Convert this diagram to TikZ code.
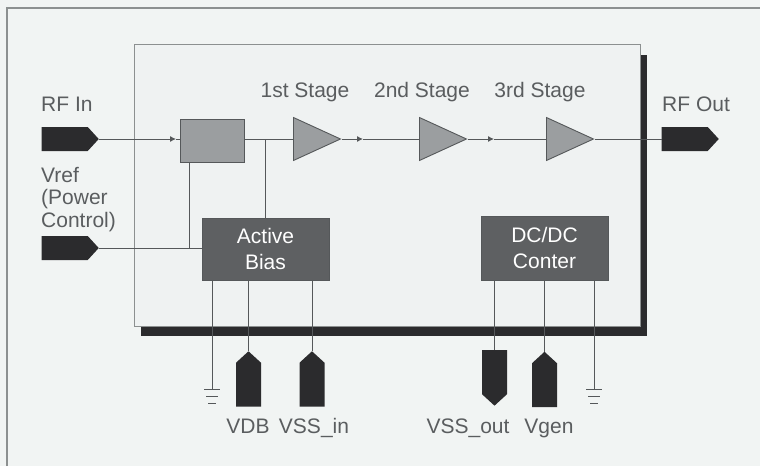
\documentclass[tikz,border=0pt]{standalone}
\usepackage{fontspec}
\setmainfont{Liberation Sans}
\usetikzlibrary{arrows.meta,shapes.geometric,shapes.symbols}
\definecolor{mmicPaper}{HTML}{F1F4F3}
\definecolor{mmicPanel}{HTML}{EFF2F2}
\definecolor{mmicEdge}{HTML}{8C9090}
\definecolor{mmicInk}{HTML}{2B2B2D}
\definecolor{mmicWire}{HTML}{55585A}
\definecolor{mmicText}{HTML}{5A5D5F}
\definecolor{mmicGray}{HTML}{9B9EA0}
\definecolor{mmicDark}{HTML}{5E6062}
\tikzset{
  mmic wire/.style={draw=mmicWire, line width=0.9pt},
  mmic feed/.style={mmic wire, -{Latex[length=6pt,width=6pt]}},
  mmic label/.style={font=\fontsize{21}{22.5}\selectfont, text=mmicText, inner sep=0pt, anchor=base},
  mmic port/.style={signal, fill=mmicInk, draw=none, inner sep=0pt, signal from=nowhere, signal pointer angle=95},
  mmic hport/.style={mmic port, signal to=east, minimum width=57, minimum height=24, anchor=east},
  mmic vport/.style={mmic port, minimum width=25, minimum height=44, anchor=north},
  mmic amp/.style={isosceles triangle, isosceles triangle stretches, draw=mmicWire, fill=mmicGray, line width=0.9pt,
    inner sep=0pt, minimum width=43, minimum height=47, anchor=lower side},
  mmic block/.style={rectangle, draw=mmicWire, fill=mmicDark, line width=0.9pt, inner sep=0pt, minimum width=127,
    font=\fontsize{21}{25.5}\selectfont, text=white, align=center},
  mmic ground/.pic={
    \draw[mmic wire] (-8,0) -- (8,0);
    \draw[mmic wire] (-6,7) -- (6,7);
    \draw[mmic wire] (-4,14) -- (4,14);
  },
}

\begin{document}
\begin{tikzpicture}[x=1pt,y=-1pt]
  \useasboundingbox[fill=mmicPaper] (0,0) rectangle (760,466);
  % Frame, top and left only
  \draw[draw=mmicEdge, line width=1.5pt] (7,466) -- (7,8) -- (760,8);

  % Chip with its shadow
  \fill[mmicInk] (141,55) rectangle (647,336);
  \draw[draw=mmicEdge, fill=mmicPanel, line width=1pt] (134,44.5) rectangle (640,326);

  % Ports
  \node[mmic hport] (rfin) at (99,139) {};
  \node[mmic hport] (vref) at (99,248) {};
  \node[mmic hport] (rfout) at (719,139) {};
  \node[mmic vport, signal to=north] (vdb) at (248.5,351) {};
  \node[mmic vport, signal to=north] (vssin) at (312,351) {};
  \node[mmic vport, signal to=south] (vssout) at (494.5,350) {};
  \node[mmic vport, signal to=north] (vgen) at (544.5,351.5) {};

  % Blocks and stages
  \node[rectangle, draw=mmicWire, fill=mmicGray, line width=0.9pt, minimum width=64, minimum height=43, inner sep=0pt] (split) at (212,140.5) {};
  \node[mmic amp] (stagea) at (293,139) {};
  \node[mmic amp] (stageb) at (419,139) {};
  \node[mmic amp] (stagec) at (546,139) {};
  \node[mmic block, minimum height=62] (bias) at (265.5,249) {Active\\Bias};
  \node[mmic block, minimum height=64] (dcdc) at (544.5,248) {DC/DC\\Conter};

  % Labels
  \node[mmic label, anchor=base west] (rfinlabel) at (41,111) {RF In};
  \node[mmic label, anchor=north west, align=left] (vreflabel) at (41,167) {Vref\\(Power\\Control)};
  \node[mmic label, anchor=base west] (rfoutlabel) at (662,111) {RF Out};
  \node[mmic label] (stagealabel) at (305,97) {1st Stage};
  \node[mmic label] (stageblabel) at (422,97) {2nd Stage};
  \node[mmic label] (stageclabel) at (540,97) {3rd Stage};
  \node[mmic label] (vdblabel) at (248,433) {VDB};
  \node[mmic label] (vssinlabel) at (314,433) {VSS\_in};
  \node[mmic label] (vssoutlabel) at (468,433) {VSS\_out};
  \node[mmic label] (vgenlabel) at (549,433) {Vgen};

  % Signal path
  \coordinate (tipa) at (176,139);
  \coordinate (tipb) at (363,139);
  \coordinate (tipc) at (494,139);
  \draw[mmic feed] (rfin.east) -- (tipa);
  \draw[mmic wire] (tipa) -- (split.west |- tipa);
  \draw[mmic wire] (split.east |- stagea.lower side) -- (stagea.lower side);
  \draw[mmic feed] (stagea.apex) -- (tipb);
  \draw[mmic wire] (tipb) -- (stageb.lower side);
  \draw[mmic feed] (stageb.apex) -- (tipc);
  \draw[mmic wire] (tipc) -- (stagec.lower side);
  \draw[mmic wire] (stagec.apex) -- (rfout.west);

  % Bias lines
  \coordinate (biasin) at (189,248);
  \draw[mmic wire] (vref.east) -- (bias.west |- biasin);
  \draw[mmic wire] (split.south -| biasin) -- (biasin);
  \draw[mmic wire] (bias.north |- stagea.lower side) -- (bias.north);

  % Supply lines
  \coordinate (gnda) at (212,389);
  \coordinate (gndb) at (594,389.5);
  \draw[mmic wire] (gnda |- bias.south) -- (gnda);
  \draw[mmic wire] (vdb.north |- bias.south) -- (vdb.north);
  \draw[mmic wire] (vssin.north |- bias.south) -- (vssin.north);
  \draw[mmic wire] (vssout.north |- dcdc.south) -- (vssout.north);
  \draw[mmic wire] (vgen.north |- dcdc.south) -- (vgen.north);
  \draw[mmic wire] (gndb |- dcdc.south) -- (gndb);
  \pic at (gnda) {mmic ground};
  \pic at (gndb) {mmic ground};
\end{tikzpicture}
\end{document}
